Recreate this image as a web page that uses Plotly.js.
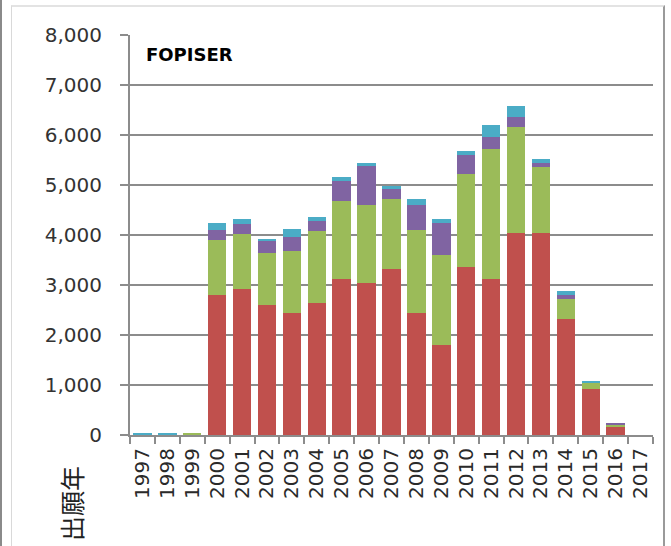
<!DOCTYPE html>
<html>
<head>
<meta charset="utf-8">
<script src="https://cdn.plot.ly/plotly-3.0.1.min.js"></script>
<style>
  html, body { margin: 0; padding: 0; background: #fff; }
  #wrap { position: relative; width: 671px; height: 546px; overflow: hidden; }
  #chart { width: 671px; height: 546px; }
  .frame { position: absolute; pointer-events: none; }
</style>
</head>
<body>
<div id="wrap">
  <div id="chart"></div>
  <div class="frame" style="left:0px; top:0px; width:2px; height:546px; background:#8a8a8a;"></div>
  <div class="frame" style="left:11px; top:5px; width:651px; height:560px; border-left:1px solid #d9d9d9; border-top:2px solid #e3e3e3; border-right:2px solid #9a9a9a;"></div>
</div>
<script>
// Filing years (categories)
const years = ['1997','1998','1999','2000','2001','2002','2003','2004','2005','2006','2007',
               '2008','2009','2010','2011','2012','2013','2014','2015','2016','2017'];
// Stacked series, bottom to top
const seriesRed    = [0,0,0,2810,2930,2610,2450,2650,3130,3050,3330,2450,1810,3370,3130,4050,4050,2330,930,155,0];
const seriesGreen  = [0,0,50,1090,1090,1040,1230,1430,1550,1560,1400,1650,1800,1850,2600,2110,1310,400,110,45,0];
const seriesPurple = [0,0,0,200,200,230,280,200,400,770,200,510,640,390,230,210,90,80,10,50,0];
const seriesCyan   = [50,50,0,150,110,50,170,90,80,70,60,120,80,80,250,210,80,70,40,0,0];
const seriesNames  = ['系列1','系列2','系列3','系列4'];
const yTickVals    = [0,1000,2000,3000,4000,5000,6000,7000,8000];
const chartLabel   = 'FOPISER';
const xTitle       = '出願年';

const colors = ['#C0504D','#9BBB59','#8064A2','#4BACC6'];
const allSeries = [seriesRed, seriesGreen, seriesPurple, seriesCyan];

const traces = allSeries.map((vals, i) => ({
  type: 'bar',
  name: seriesNames[i],
  x: years,
  y: vals,
  marker: { color: colors[i], line: { width: 0 } },
  hoverinfo: 'x+y+name'
}));

const gray = '#8c8c8c';
const layout = {
  width: 671,
  height: 546,
  margin: { l: 130, r: 18, t: 35, b: 111, pad: 0 },
  paper_bgcolor: '#ffffff',
  plot_bgcolor: '#ffffff',
  barmode: 'stack',
  bargap: 0.26,
  showlegend: false,
  font: { family: 'DejaVu Sans, sans-serif', color: '#333333' },
  xaxis: {
    type: 'category',
    tickangle: -90,
    tickson: 'boundaries',
    ticks: 'outside',
    ticklen: 7,
    tickwidth: 2,
    tickcolor: gray,
    ticklabelstandoff: 3,
    showline: true,
    linecolor: gray,
    linewidth: 2,
    showgrid: false,
    tickfont: { family: 'DejaVu Sans, sans-serif', size: 20, color: '#2a2a2a' },
    automargin: false
  },
  yaxis: {
    range: [0, 8000],
    tickvals: yTickVals,
    tickformat: ',d',
    ticks: 'outside',
    ticklen: 8,
    tickwidth: 2,
    tickcolor: gray,
    ticklabelstandoff: 14,
    showline: true,
    linecolor: gray,
    linewidth: 2,
    showgrid: true,
    gridcolor: gray,
    gridwidth: 2,
    zeroline: false,
    tickfont: { family: 'DejaVu Sans, sans-serif', size: 20, color: '#333333' },
    automargin: false
  },
  annotations: [
    {
      text: chartLabel, xref: 'paper', yref: 'paper', x: 0.026, y: 0.952,
      xanchor: 'left', yanchor: 'middle', showarrow: false,
      font: { family: 'DejaVu Sans, sans-serif', size: 18, color: '#000000', weight: 'bold' }
    },
    {
      text: xTitle, xref: 'paper', yref: 'paper', x: -0.113, y: -0.17,
      xanchor: 'center', yanchor: 'middle', showarrow: false, textangle: -90,
      font: { family: 'Noto Sans CJK JP, sans-serif', size: 25, color: '#222222' }
    }
  ]
};

Plotly.newPlot('chart', traces, layout, { staticPlot: true, displayModeBar: false });
</script>
</body>
</html>
